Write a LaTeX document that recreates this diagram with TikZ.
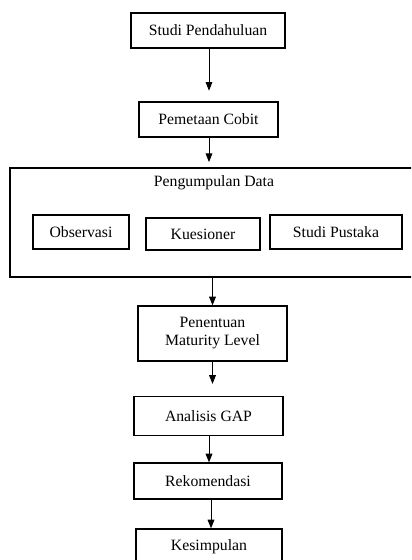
\documentclass[tikz,border=0pt]{standalone}
\usepackage{fontspec}
\setmainfont{Liberation Serif}
\usetikzlibrary{arrows.meta}
\begin{document}
\begin{tikzpicture}[x=0.75pt,y=-0.75pt,
  box/.style 2 args={draw,line width=0.9pt,inner sep=0pt,align=center,
    minimum width=#1*0.75pt,minimum height=#2*0.75pt,
    font=\fontsize{11.8}{13.5}\selectfont},
  arr/.style={line width=0.7pt,-{Triangle[length=6.5pt,width=5pt]}}]
\useasboundingbox(0,0)rectangle(411,560);
\clip(0,0)rectangle(411,560);
\node[box={154}{35}](studi)at(208,30.5){Studi Pendahuluan};
\node[box={139}{35}](pemetaan)at(208.5,119.5){Pemetaan Cobit};
\node[box={410}{109}](data)at(215,222.5){};
\node[font=\fontsize{11.8}{13.5}\selectfont,inner sep=0pt](datatitle)at(214,183){Pengumpulan Data};
\node[box={96}{34}](obs)at(81,232){Observasi};
\node[box={114}{32}](kues)at(203,234){Kuesioner};
\node[box={132}{34}](pustaka)at(336,232){Studi Pustaka};
\node[box={149}{55}](penentuan)at(212.5,333.5){Penentuan\\Maturity Level};
\node[box={149}{39}](gap)at(208.5,416){Analisis GAP};
\node[box={148}{36}](rekom)at(208,481){Rekomendasi};
\node[box={146}{36}](kesimpulan)at(209,547){Kesimpulan};
%\draw[gray](0,0)rectangle(411,560);
\draw[arr,shorten >=8pt](studi.south-|209,0)--(pemetaan.north-|209,0);
\draw[arr,shorten >=4pt](pemetaan.south-|209,0)--(data.north-|209,0);
\draw[arr](penentuan.north|-data.south)--(penentuan.north);
\draw[arr,shorten >=9pt](penentuan.south)--(gap.north-|penentuan.south);
\draw[arr](gap.south-|209,0)--(rekom.north-|209,0);
\draw[arr](rekom.south-|211,0)--(kesimpulan.north-|211,0);
\end{tikzpicture}
\end{document}
